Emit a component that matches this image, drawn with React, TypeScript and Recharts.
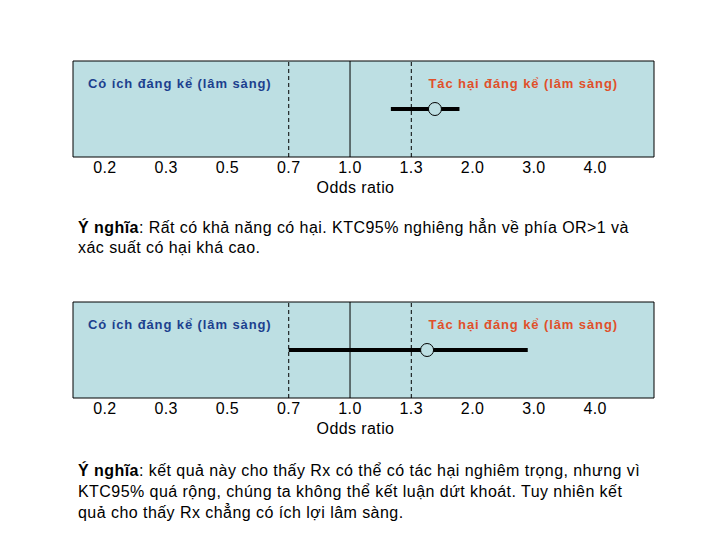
import React from "react";
import {
  ComposedChart,
  XAxis,
  YAxis,
  ReferenceArea,
  ReferenceLine,
  ReferenceDot,
  Label,
} from "recharts";

// tick labels of the odds ratio axis (evenly spaced on the slide)
const oddsTicks: number[] = [0.2, 0.3, 0.5, 0.7, 1.0, 1.3, 2.0, 3.0, 4.0];

// clinical thresholds
const benefitLimit = 0.7;
const noEffect = 1.0;
const harmLimit = 1.3;

// two example results: lower CI, point estimate, upper CI
const exampleNames: string[] = ["Ví dụ 1", "Ví dụ 2"];
const ciLower: number[] = [1.2, 0.7];
const pointEstimate: number[] = [1.57, 1.48];
const ciUpper: number[] = [1.85, 2.9];

const benefitText = "Có ích đáng kể (lâm sàng)";
const harmText = "Tác hại đáng kể (lâm sàng)";

const notes: string[][] = [
  [
    ": Rất có khả năng có hại. KTC95% nghiêng hẳn về phía OR>1 và",
    "xác suất có hại khá cao.",
  ],
  [
    ": kết quả này cho thấy Rx có thể có tác hại nghiêm trọng, nhưng vì",
    "KTC95% quá rộng, chúng ta không thể kết luận dứt khoát. Tuy nhiên kết",
    "quả cho thấy Rx chẳng có ích lợi lâm sàng.",
  ],
];

const BG = "#bddfe3";
const FONT = "'Liberation Sans', Arial, sans-serif";

// piecewise position of an odds ratio on the evenly spaced label axis
const toSlot = (or: number): number => {
  for (let i = 0; i < oddsTicks.length - 1; i++) {
    const a = oddsTicks[i];
    const b = oddsTicks[i + 1];
    if (or <= b) return i + (or - a) / (b - a);
  }
  return oddsTicks.length - 1;
};

const slotTicks = oddsTicks.map((_, i) => i);
const X_DOMAIN: [number, number] = [-0.52, 8.96];

const panelLabelStyle = {
  fontSize: 13,
  fontWeight: "bold",
  fontFamily: FONT,
  letterSpacing: 0.9,
};

const Panel = ({ idx, top }: { idx: number; top: number }) => (
  <div style={{ position: "absolute", left: 0, top }}>
    <ComposedChart
      width={720}
      height={205}
      margin={{ top: 61, left: 73, right: 66, bottom: 0 }}
    >
      <XAxis
        type="number"
        dataKey="x"
        domain={X_DOMAIN}
        ticks={slotTicks}
        tickFormatter={(v: number) => oddsTicks[v].toFixed(1)}
        axisLine={false}
        tickLine={false}
        tickSize={0}
        tickMargin={5}
        height={48}
        tick={{ fill: "#000", fontSize: 16, fontFamily: FONT, letterSpacing: 0.4 }}
        allowDataOverflow
      >
        <Label
          value="Odds ratio"
          position="insideBottom"
          offset={12}
          dx={-8}
          style={{ fill: "#000", fontSize: 16, fontFamily: FONT, letterSpacing: 0.4 }}
        />
      </XAxis>
      <YAxis type="number" domain={[0, 1]} hide />
      <ReferenceArea
        x1={X_DOMAIN[0]}
        x2={X_DOMAIN[1]}
        y1={0}
        y2={1}
        fill={BG}
        fillOpacity={1}
        stroke="#000"
        strokeWidth={1}
        ifOverflow="extendDomain"
      >
        <Label
          value={benefitText}
          position="insideTopLeft"
          offset={15}
          dy={3}
          style={{ ...panelLabelStyle, fill: "#1c3f8e" }}
        />
        <Label
          value={harmText}
          position="insideTopRight"
          offset={15}
          dx={-21}
          dy={3}
          style={{ ...panelLabelStyle, fill: "#e0502a" }}
        />
      </ReferenceArea>
      <ReferenceLine
        x={toSlot(benefitLimit)}
        stroke="#000"
        strokeWidth={1}
        strokeDasharray="4 3"
      />
      <ReferenceLine x={toSlot(noEffect)} stroke="#000" strokeWidth={1} />
      <ReferenceLine
        x={toSlot(harmLimit)}
        stroke="#000"
        strokeWidth={1}
        strokeDasharray="4 3"
      />
      <ReferenceLine
        segment={[
          { x: toSlot(ciLower[idx]), y: 0.5 },
          { x: toSlot(ciUpper[idx]), y: 0.5 },
        ]}
        stroke="#000"
        strokeWidth={4}
      />
      <ReferenceDot
        x={toSlot(pointEstimate[idx])}
        y={0.5}
        r={6.5}
        fill={BG}
        stroke="#000"
        strokeWidth={1}
      />
    </ComposedChart>
  </div>
);

const Note = ({ lines, top, lineHeight }: { lines: string[]; top: number; lineHeight: number }) => (
  <div
    style={{
      position: "absolute",
      left: 78,
      top,
      width: 620,
      fontFamily: FONT,
      fontSize: 16,
      letterSpacing: 0.45,
      lineHeight: `${lineHeight}px`,
      color: "#000",
      whiteSpace: "nowrap",
    }}
  >
    {lines.map((line, i) => (
      <div key={i}>
        {i === 0 && <b>Ý nghĩa</b>}
        {line}
      </div>
    ))}
  </div>
);

export default function App() {
  return (
    <div
      style={{
        position: "absolute",
        left: 0,
        top: 0,
        width: 720,
        height: 540,
        background: "#fff",
      }}
    >
      {exampleNames.map((name, i) => (
        <Panel key={name} idx={i} top={i === 0 ? 0 : 241} />
      ))}
      <Note lines={notes[0]} top={218} lineHeight={20} />
      <Note lines={notes[1]} top={460} lineHeight={21} />
    </div>
  );
}
